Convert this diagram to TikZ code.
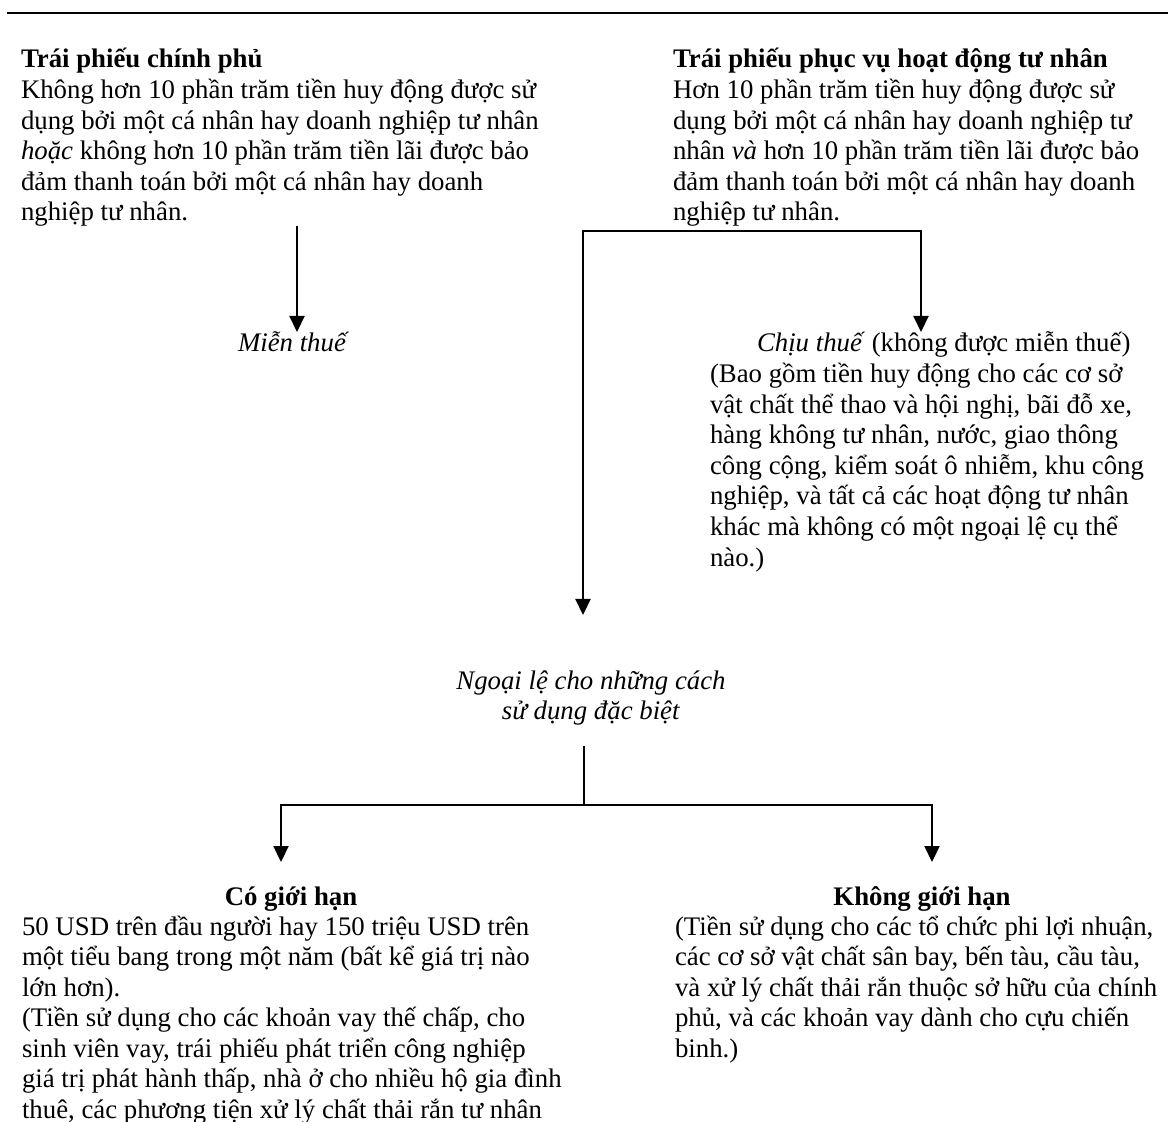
\documentclass[tikz,border=0pt]{standalone}
\usepackage{fontspec}
\setmainfont{Liberation Serif}
\usetikzlibrary{arrows.meta}
\newcommand\blk[1]{\vtop{\lineskiplimit=-100pt\lineskip=0pt\baselineskip=15.3pt\relax #1}}
\begin{document}
\begin{tikzpicture}[x=0.5pt,y=-0.5pt,
  every node/.style={font=\fontsize{13.4pt}{15.3pt}\selectfont, inner sep=0pt, outer sep=0pt},
  txt/.style={anchor=base west},
  ctr/.style={anchor=base},
  conn/.style={line width=1.1pt, line join=miter},
  arr/.style={conn, -{Triangle[width=7.5pt,length=8pt]}},
  arr2/.style={conn, {Triangle[width=7.5pt,length=8pt]}-{Triangle[width=7.5pt,length=8pt]}},
  rule/.style={line width=1.4pt}]
\useasboundingbox (0,0) rectangle (1168,1122);
\clip (0,0) rectangle (1168,1122);
\fill[white] (0,0) rectangle (1168,1122);

% top rule
\coordinate (ruleL) at (7,13);
\coordinate (ruleR) at (1168,13);
\draw[rule] (ruleL) -- (ruleR);

% left top block
\node[txt] (gov) at (21,68) {\blk{%
\hbox{\textbf{Trái phiếu chính phủ}}
\hbox{Không hơn 10 phần trăm tiền huy động được sử}
\hbox{dụng bởi một cá nhân hay doanh nghiệp tư nhân}
\hbox{\textit{hoặc} không hơn 10 phần trăm tiền lãi được bảo}
\hbox{đảm thanh toán bởi một cá nhân hay doanh}
\hbox{nghiệp tư nhân.}}};

% right top block
\node[txt] (priv) at (673,68) {\blk{%
\hbox{\textbf{Trái phiếu phục vụ hoạt động tư nhân}}
\hbox{Hơn 10 phần trăm tiền huy động được sử}
\hbox{dụng bởi một cá nhân hay doanh nghiệp tư}
\hbox{nhân \textit{và} hơn 10 phần trăm tiền lãi được bảo}
\hbox{đảm thanh toán bởi một cá nhân hay doanh}
\hbox{nghiệp tư nhân.}}};

% Mien thue
\node[txt] (mien) at (238,352) {\textit{Miễn thuế}};

% Chiu thue block
\node[txt] (chiu) at (710,352) {\blk{%
\hbox{\hspace*{23.5pt}\textit{Chịu thuế} (không được miễn thuế)}
\hbox{(Bao gồm tiền huy động cho các cơ sở}
\hbox{vật chất thể thao và hội nghị, bãi đỗ xe,}
\hbox{hàng không tư nhân, nước, giao thông}
\hbox{công cộng, kiểm soát ô nhiễm, khu công}
\hbox{nghiệp, và tất cả các hoạt động tư nhân}
\hbox{khác mà không có một ngoại lệ cụ thể}
\hbox{nào.)}}};

% Ngoai le
\node[ctr] (ngoai1) at (591,690) {\textit{Ngoại lệ cho những cách}};
\node[ctr] (ngoai2) at (591,720) {\textit{sử dụng đặc biệt}};

% Co gioi han
\node[ctr] (coT) at (291,905) {\textbf{Có giới hạn}};
\node[txt] (co) at (22,935) {\blk{%
\hbox{50 USD trên đầu người hay 150 triệu USD trên}
\hbox{một tiểu bang trong một năm (bất kể giá trị nào}
\hbox{lớn hơn).}
\hbox{(Tiền sử dụng cho các khoản vay thế chấp, cho}
\hbox{sinh viên vay, trái phiếu phát triển công nghiệp}
\hbox{giá trị phát hành thấp, nhà ở cho nhiều hộ gia đình}
\hbox{thuê, các phương tiện xử lý chất thải rắn tư nhân}}};

% Khong gioi han
\node[ctr] (khT) at (922,905) {\textbf{Không giới hạn}};
\node[txt] (kh) at (675,935) {\blk{%
\hbox{(Tiền sử dụng cho các tổ chức phi lợi nhuận,}
\hbox{các cơ sở vật chất sân bay, bến tàu, cầu tàu,}
\hbox{và xử lý chất thải rắn thuộc sở hữu của chính}
\hbox{phủ, và các khoản vay dành cho cựu chiến}
\hbox{binh.)}}};

% connectors
\coordinate (govA) at (297,226);
\coordinate (mienA) at (297,332);
\draw[arr] (govA) -- (mienA);

\coordinate (bL) at (583,231);
\coordinate (bR) at (921,231);
\coordinate (chiuA) at (921,332);
\coordinate (ngoaiA) at (583,615);
\draw[arr2] (ngoaiA) -- (bL) -- (bR) -- (chiuA);

\coordinate (stemT) at (584,746);
\coordinate (stemB) at (584,805);
\draw[conn] (stemT) -- (stemB);

\coordinate (hL) at (281,805);
\coordinate (hR) at (932,805);
\coordinate (coA) at (281,862);
\coordinate (khA) at (932,862);
\draw[arr2] (coA) -- (hL) -- (hR) -- (khA);
\end{tikzpicture}
\end{document}
